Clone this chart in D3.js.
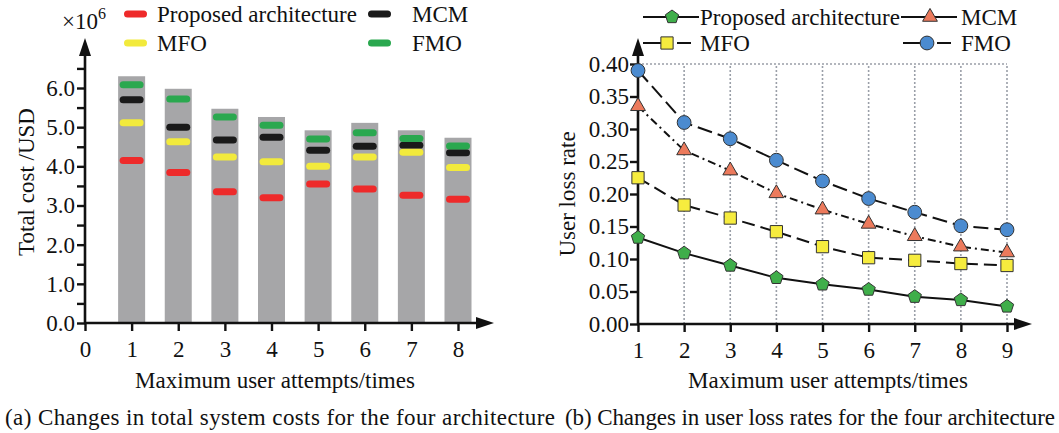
<!DOCTYPE html>
<html>
<head>
<meta charset="utf-8">
<script src="https://cdn.jsdelivr.net/npm/d3@7"></script>
<style>
  html, body { margin: 0; padding: 0; background: #fff; }
  svg { display: block; font-family: "Liberation Serif", "Times New Roman", serif; }
</style>
</head>
<body>
<svg id="chart" width="1059" height="433"></svg>
<script>
// (a) total system cost, x10^6 USD
const attemptsA = [1, 2, 3, 4, 5, 6, 7, 8];
const costBar = [6.30, 5.98, 5.47, 5.26, 4.92, 5.11, 4.92, 4.73];
const costProposed = [4.15, 3.84, 3.35, 3.20, 3.55, 3.42, 3.26, 3.16];
const costMCM = [5.70, 5.00, 4.67, 4.74, 4.41, 4.51, 4.54, 4.35];
const costMFO = [5.11, 4.63, 4.24, 4.12, 4.00, 4.24, 4.36, 3.97];
const costFMO = [6.08, 5.72, 5.26, 5.05, 4.70, 4.86, 4.71, 4.52];

// (b) user loss rate
const attemptsB = [1, 2, 3, 4, 5, 6, 7, 8, 9];
const lossProposed = [0.133, 0.109, 0.090, 0.071, 0.061, 0.053, 0.042, 0.037, 0.027];
const lossMCM = [0.335, 0.267, 0.236, 0.201, 0.176, 0.154, 0.135, 0.119, 0.110];
const lossMFO = [0.225, 0.183, 0.163, 0.142, 0.119, 0.102, 0.098, 0.093, 0.090];
const lossFMO = [0.390, 0.310, 0.285, 0.252, 0.220, 0.193, 0.172, 0.151, 0.145];

const names = ["Proposed architecture", "MCM", "MFO", "FMO"];
const barColor = ["#ee2a2a", "#1a1a1a", "#f2ea3c", "#2aa84f"];

const svg = d3.select("#chart");
const FS = 23;

// draws a thick axis line with a filled arrow head
function arrowAxis(g, x1, y1, x2, y2) {
    g.append("line")
        .attr("x1", x1).attr("y1", y1).attr("x2", x2).attr("y2", y2)
        .attr("stroke", "#111").attr("stroke-width", 2.6);
    let pts;
    if (x1 === x2) pts = [[x2 - 6, y2 + 2], [x2 + 6, y2 + 2], [x2, y2 - 16]];
    else pts = [[x2 - 2, y2 - 6], [x2 - 2, y2 + 6], [x2 + 16, y2]];
    g.append("polygon").attr("points", pts.join(" ")).attr("fill", "#111");
}

function styleAxis(g) {
    g.select(".domain").remove();
    g.selectAll(".tick line").attr("stroke", "#111").attr("stroke-width", 2.4);
    g.selectAll(".tick text").attr("fill", "#111").style("font-size", FS + "px")
        .style("font-family", "Liberation Serif");
}

// ---------------- (a) ----------------
const xa = d3.scaleLinear().domain([0, 8]).range([85, 458]);
const ya = d3.scaleLinear().domain([0, 6]).range([323, 88]);
const ga = svg.append("g");

ga.append("g").selectAll("rect").data(attemptsA).join("rect")
    .attr("x", d => xa(d) - 13.5)
    .attr("y", (d, i) => ya(costBar[i]))
    .attr("width", 27)
    .attr("height", (d, i) => ya(0) - ya(costBar[i]))
    .attr("fill", "#a6a6a8");

[costProposed, costMCM, costMFO, costFMO].forEach((vals, k) => {
    ga.append("g").selectAll("rect").data(attemptsA).join("rect")
        .attr("x", d => xa(d) - 12)
        .attr("y", (d, i) => ya(vals[i]) - 3.5)
        .attr("width", 24).attr("height", 7)
        .attr("rx", 3.5)
        .attr("fill", barColor[k]);
});

ga.append("g").attr("transform", `translate(${xa(0)},0)`)
    .call(d3.axisLeft(ya).tickValues(d3.range(0, 6.6, 0.5)).tickSize(8).tickPadding(2)
        .tickFormat(d => Number.isInteger(d) ? d.toFixed(1) : ""))
    .call(styleAxis);

ga.append("g").attr("transform", `translate(0,${ya(0)})`)
    .call(d3.axisBottom(xa).tickValues(d3.range(0, 9)).tickSize(8).tickPadding(10)
        .tickFormat(d3.format("d")))
    .call(styleAxis);

arrowAxis(ga, xa(0), ya(0) + 1, xa(0), 54);
arrowAxis(ga, xa(0) - 1, ya(0), 478, ya(0));

const mult = ga.append("text").attr("x", 62).attr("y", 29).style("font-size", FS + "px").attr("fill", "#111");
mult.append("tspan").text("×10");
mult.append("tspan").attr("dy", -10).style("font-size", "16px").text("6");

ga.append("text").attr("transform", `translate(34,${ya(3.6)}) rotate(-90)`)
    .attr("text-anchor", "middle").style("font-size", FS + "px").attr("fill", "#111")
    .text("Total cost /USD");
ga.append("text").attr("x", 275).attr("y", 388).attr("text-anchor", "middle")
    .style("font-size", FS + "px").attr("fill", "#111").text("Maximum user attempts/times");

// legend (a)
const legA = [[124, 14, 157, 22], [368, 14, 412, 22], [124, 43, 157, 51], [368, 43, 412, 51]];
names.forEach((n, k) => {
    const p = legA[k];
    ga.append("rect").attr("x", p[0]).attr("y", p[1] - 3.5).attr("width", 23).attr("height", 7)
        .attr("rx", 3.5).attr("fill", barColor[k]);
    ga.append("text").attr("x", p[2]).attr("y", p[3]).style("font-size", FS + "px")
        .attr("fill", "#111").text(n);
});

// ---------------- (b) ----------------
const xb = d3.scaleLinear().domain([1, 9]).range([638, 1007]);
const yb = d3.scaleLinear().domain([0, 0.4]).range([324, 64]);
const gb = svg.append("g");

gb.append("g").selectAll("line").data(attemptsB.slice(1)).join("line")
    .attr("x1", d => xb(d)).attr("x2", d => xb(d))
    .attr("y1", yb(0)).attr("y2", yb(0.4))
    .attr("stroke", "#9a9fa8").attr("stroke-width", 1.6).attr("stroke-dasharray", "2,2");
gb.append("line").attr("x1", xb(1)).attr("x2", xb(9)).attr("y1", yb(0.4)).attr("y2", yb(0.4))
    .attr("stroke", "#9a9fa8").attr("stroke-width", 1.6).attr("stroke-dasharray", "2,2");

gb.append("g").attr("transform", `translate(${xb(1)},0)`)
    .call(d3.axisLeft(yb).tickValues(d3.range(0, 0.401, 0.05)).tickSize(8).tickPadding(1)
        .tickFormat(d3.format(".2f")))
    .call(styleAxis);
gb.append("g").attr("transform", `translate(0,${yb(0)})`)
    .call(d3.axisBottom(xb).tickValues(attemptsB).tickSize(8).tickPadding(10)
        .tickFormat(d3.format("d")))
    .call(styleAxis);

arrowAxis(gb, xb(1), yb(0) + 1, xb(1), 54);
arrowAxis(gb, xb(1) - 1, yb(0), 1016, yb(0));

const seriesB = [
    { vals: lossProposed, dash: null, shape: "pentagon", fill: "#3fae4a" },
    { vals: lossMCM, dash: "8,4,2,4", shape: "triangle", fill: "#ec7a5c" },
    { vals: lossMFO, dash: "13,6", shape: "square", fill: "#f6ec3e" },
    { vals: lossFMO, dash: "15,6", shape: "circle", fill: "#4b8bd0" }
];

function pentagon(r) {
    const pts = d3.range(5).map(i => {
        const a = -Math.PI / 2 + i * 2 * Math.PI / 5;
        return [r * Math.cos(a), r * Math.sin(a)];
    });
    return "M" + pts.join("L") + "Z";
}
function markerPath(shape) {
    if (shape === "pentagon") return pentagon(7);
    if (shape === "triangle") return d3.symbol(d3.symbolTriangle, 95)();
    if (shape === "square") return d3.symbol(d3.symbolSquare, 150)();
    return d3.symbol(d3.symbolCircle, 150)();
}

const line = d3.line().x((d, i) => xb(attemptsB[i])).y(d => yb(d));
seriesB.forEach(s => {
    gb.append("path").datum(s.vals).attr("d", line)
        .attr("fill", "none").attr("stroke", "#111").attr("stroke-width", 2)
        .attr("stroke-dasharray", s.dash);
});
seriesB.forEach(s => {
    gb.append("g").selectAll("path").data(s.vals).join("path")
        .attr("transform", (d, i) => `translate(${xb(attemptsB[i])},${yb(d)})`)
        .attr("d", markerPath(s.shape))
        .attr("fill", s.fill).attr("stroke", "#333").attr("stroke-width", 1);
});

gb.append("text").attr("transform", `translate(575,${yb(0.2)}) rotate(-90)`)
    .attr("text-anchor", "middle").style("font-size", FS + "px").attr("fill", "#111")
    .text("User loss rate");
gb.append("text").attr("x", 828).attr("y", 388).attr("text-anchor", "middle")
    .style("font-size", FS + "px").attr("fill", "#111").text("Maximum user attempts/times");

// legend (b)
const legB = [
    { x: 643, y: 17, tx: 700, ty: 25, k: 0 },
    { x: 901, y: 17, tx: 961, ty: 25, k: 1 },
    { x: 643, y: 43, tx: 700, ty: 51, k: 2 },
    { x: 903, y: 43, tx: 961, ty: 51, k: 3 }
];
legB.forEach(p => {
    const s = seriesB[p.k];
    if (s.dash && p.k !== 1) {
        gb.append("line").attr("x1", p.x).attr("x2", p.x + 18).attr("y1", p.y).attr("y2", p.y)
            .attr("stroke", "#111").attr("stroke-width", 2);
        gb.append("line").attr("x1", p.x + 34).attr("x2", p.x + 48).attr("y1", p.y).attr("y2", p.y)
            .attr("stroke", "#111").attr("stroke-width", 2);
        gb.append("path").attr("transform", `translate(${p.x + 24},${p.y})`)
            .attr("d", markerPath(s.shape)).attr("fill", s.fill).attr("stroke", "#333");
    } else {
        gb.append("line").attr("x1", p.x).attr("x2", p.x + 56).attr("y1", p.y).attr("y2", p.y)
            .attr("stroke", "#111").attr("stroke-width", 2);
        gb.append("path").attr("transform", `translate(${p.x + 29},${p.y})`)
            .attr("d", markerPath(s.shape)).attr("fill", s.fill).attr("stroke", "#333");
    }
    gb.append("text").attr("x", p.tx).attr("y", p.ty).style("font-size", FS + "px")
        .attr("fill", "#111").text(names[p.k]);
});

// captions
svg.append("text").attr("x", 5).attr("y", 425).style("font-size", "23px").attr("fill", "#111")
    .attr("textLength", 550).attr("lengthAdjust", "spacing")
    .text("(a) Changes in total system costs for the four architecture");
svg.append("text").attr("x", 565).attr("y", 425).style("font-size", "23px").attr("fill", "#111")
    .attr("textLength", 490).attr("lengthAdjust", "spacing")
    .text("(b) Changes in user loss rates for the four architecture");
</script>
</body>
</html>
